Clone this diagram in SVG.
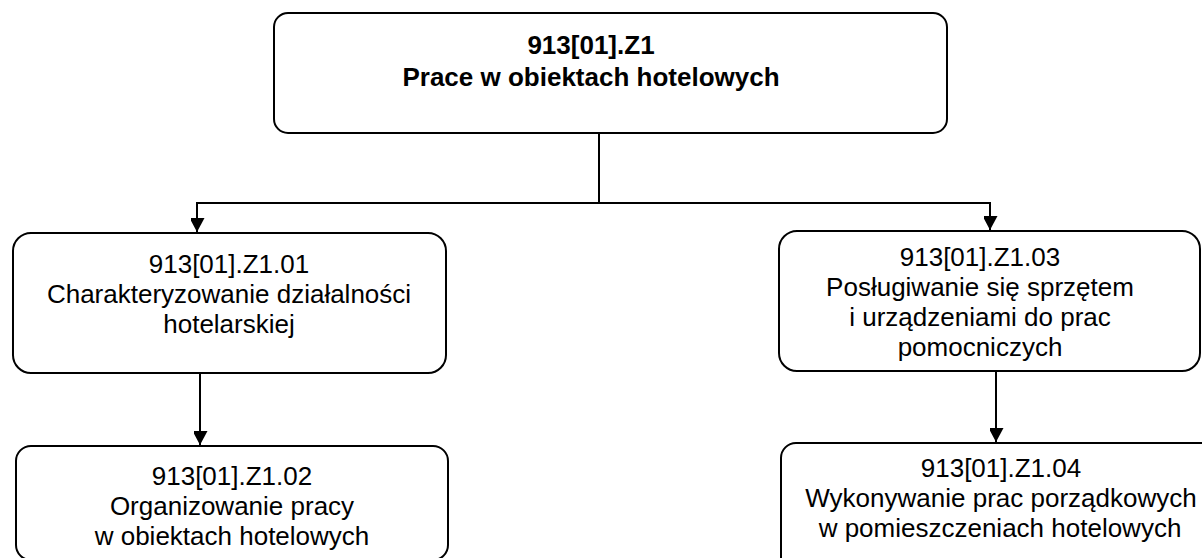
<svg xmlns="http://www.w3.org/2000/svg" width="1202" height="558" viewBox="0 0 1202 558">
<style>
.box{fill:#fff;stroke:#000;stroke-width:2}
.t{font-family:"Liberation Sans",Arial,sans-serif;font-size:26px;fill:#000;text-anchor:middle}
.b{font-weight:bold}
.c{fill:none;stroke:#000;stroke-width:2}
</style>
<defs>
<marker id="arr" markerUnits="userSpaceOnUse" markerWidth="16" markerHeight="14" refX="14" refY="7.5" orient="auto">
<path d="M0,0 L14,7.5 L0,15 Z" fill="#000"/>
</marker>
</defs>
<rect width="1202" height="558" fill="#fff"/>
<g id="connectors">
<line class="c" x1="599" y1="133" x2="599" y2="203"/>
<line class="c" x1="196" y1="203" x2="991" y2="203"/>
<line class="c" x1="197" y1="203" x2="197" y2="232" marker-end="url(#arr)"/>
<line class="c" x1="990" y1="203" x2="990" y2="230" marker-end="url(#arr)"/>
<line class="c" x1="200" y1="373" x2="200" y2="445" marker-end="url(#arr)"/>
<line class="c" x1="996" y1="371" x2="996" y2="442" marker-end="url(#arr)"/>
</g>
<g id="n0">
<rect class="box" x="274" y="13" width="673" height="120" rx="14"/>
<text class="t b" x="591" y="54">913[01].Z1</text>
<text class="t b" x="591" y="86">Prace w obiektach hotelowych</text>
</g>
<g id="n1">
<rect class="box" x="13" y="233" width="433" height="140" rx="18"/>
<text class="t" x="229" y="273">913[01].Z1.01</text>
<text class="t" x="229" y="303">Charakteryzowanie działalności</text>
<text class="t" x="229" y="333">hotelarskiej</text>
</g>
<g id="n2">
<rect class="box" x="16" y="446" width="432" height="114" rx="15"/>
<text class="t" x="232" y="485">913[01].Z1.02</text>
<text class="t" x="232" y="515">Organizowanie pracy</text>
<text class="t" x="232" y="545">w obiektach hotelowych</text>
</g>
<g id="n3">
<rect class="box" x="779" y="231" width="421" height="140" rx="18"/>
<text class="t" x="980" y="266">913[01].Z1.03</text>
<text class="t" x="980" y="296">Posługiwanie się sprzętem</text>
<text class="t" x="980" y="326">i urządzeniami do prac</text>
<text class="t" x="980" y="356">pomocniczych</text>
</g>
<g id="n4">
<rect class="box" x="781" y="443" width="440" height="130" rx="15"/>
<text class="t" x="1001" y="477">913[01].Z1.04</text>
<text class="t" x="1001" y="507">Wykonywanie prac porządkowych</text>
<text class="t" x="1000" y="537">w pomieszczeniach hotelowych</text>
</g>
</svg>
